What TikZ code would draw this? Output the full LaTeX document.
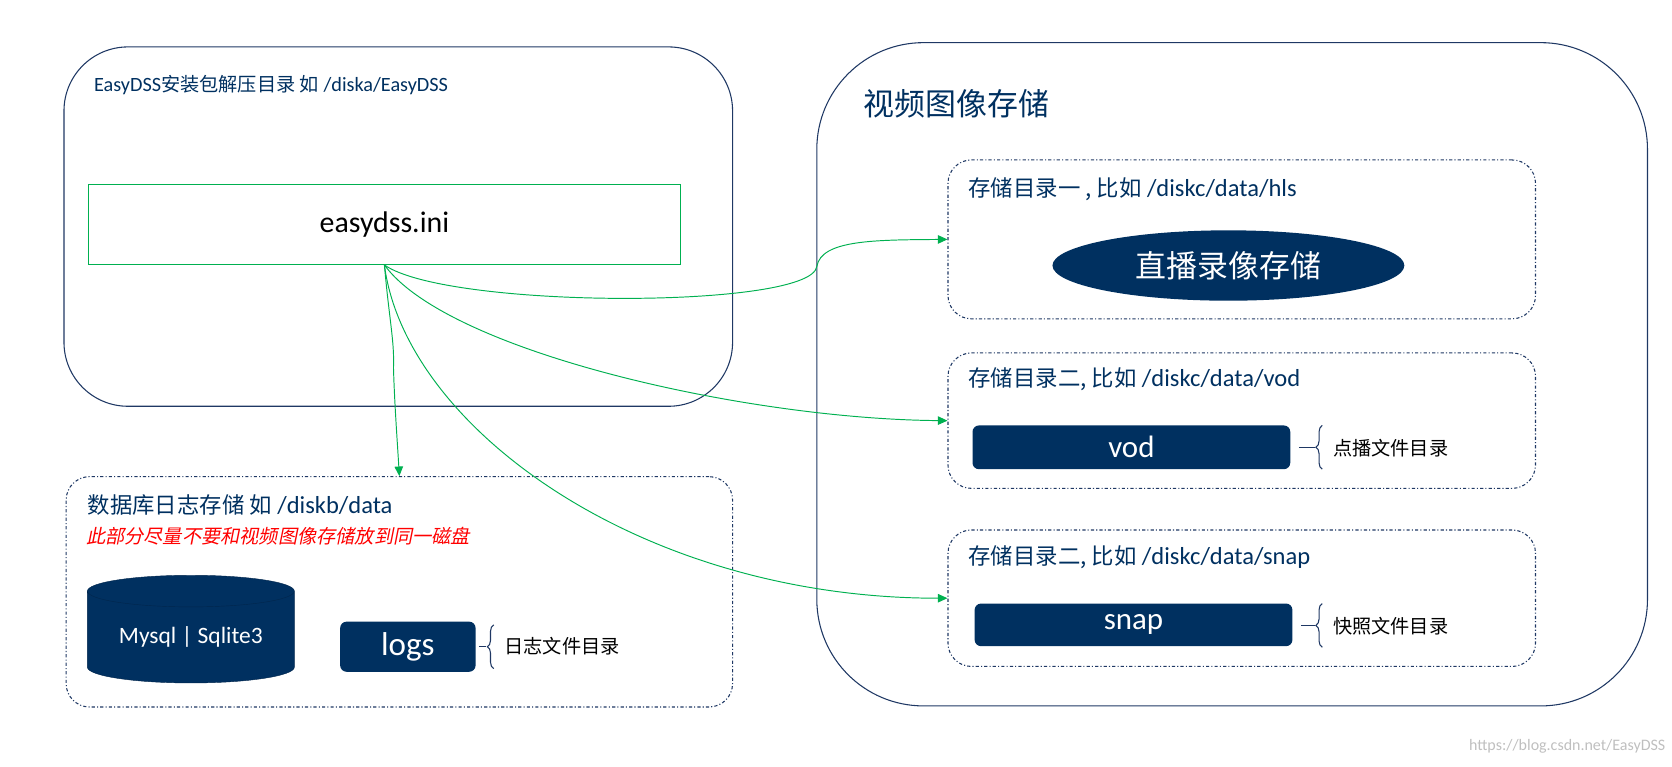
\documentclass[tikz,border=0pt]{standalone}
\usepackage{fontspec}
\setmainfont{Carlito}
\newfontfamily\cjk{Noto Sans CJK SC}
\usetikzlibrary{shapes.geometric,arrows.meta,decorations.pathreplacing}
\definecolor{navy}{RGB}{0,48,96}
\definecolor{boxline}{RGB}{31,56,100}
\definecolor{arrowgreen}{RGB}{0,176,80}
\tikzset{
  outer/.style={draw=boxline, line width=1pt, rounded corners=#1, inner sep=0pt},
  subbox/.style={draw=boxline, line width=1pt, dash dot, rounded corners=22pt, inner sep=0pt},
  label/.style={anchor=west, inner sep=0pt, text=navy},
  item/.style={fill=navy, rounded corners=6pt, text=white, inner sep=0pt},
  note/.style={anchor=west, inner sep=0pt, font=\cjk\fontsize{18}{20}\selectfont},
  link/.style={draw=arrowgreen, line width=0.9pt, -{Triangle[length=9pt,width=8pt]}},
  brace/.style={draw=boxline, line width=1pt, decorate, decoration={brace, amplitude=6pt, mirror}}
}
\begin{document}
\begin{tikzpicture}[x=1pt,y=-1pt]
\useasboundingbox (0,0) rectangle (1568,719);
% containers
\node[outer=60pt, minimum width=627pt, minimum height=337pt] (pkg) at (373.5,212.5) {};
\node[outer=100pt, minimum width=779pt, minimum height=622pt] (store) at (1155.5,351) {};
\node[subbox, minimum width=625pt, minimum height=216pt] (db) at (374.5,555) {};
\node[subbox, minimum width=551pt, minimum height=149pt] (dirA) at (1164.5,224.5) {};
\node[subbox, minimum width=551pt, minimum height=127pt] (dirB) at (1164.5,394.5) {};
\node[subbox, minimum width=551pt, minimum height=128pt] (dirC) at (1164.5,561) {};
% titles
\node[label, font=\fontsize{19}{22}\selectfont] (pkgT) at (88,80) {EasyDSS{\cjk\fontsize{18}{22}\selectfont 安装包解压目录 如} /diska/EasyDSS};
\node[label, font=\cjk\fontsize{29}{32}\selectfont] (storeT) at (810,97) {视频图像存储};
\node[label, font=\fontsize{23}{26}\selectfont] (dirAT) at (908,177) {{\cjk\fontsize{21}{24}\selectfont 存储目录一 , 比如} /diskc/data/hls};
\node[label, font=\fontsize{23}{26}\selectfont] (dirBT) at (908,356) {{\cjk\fontsize{21}{24}\selectfont 存储目录二, 比如} /diskc/data/vod};
\node[label, font=\fontsize{23}{26}\selectfont] (dirCT) at (908,523) {{\cjk\fontsize{21}{24}\selectfont 存储目录二, 比如} /diskc/data/snap};
\node[label, font=\fontsize{23}{26}\selectfont] (dbT) at (82,474) {{\cjk\fontsize{21}{24}\selectfont 数据库日志存储 如} /diskb/data};
\node[label, text=red, font=\cjk\fontsize{18}{20}\selectfont, xslant=0.2] (dbW) at (82,503) {此部分尽量不要和视频图像存储放到同一磁盘};
% items
\node[draw=arrowgreen, line width=1pt, minimum width=555pt, minimum height=75pt, font=\fontsize{28}{30}\selectfont] (ini) at (360.5,210.5) {easydss.ini};
\node[ellipse, fill=navy, text=white, minimum width=330pt, minimum height=66pt, inner sep=0pt, font=\cjk\fontsize{29}{32}\selectfont] (live) at (1152,249) {直播录像存储};
\node[item, minimum width=298pt, minimum height=41pt, font=\fontsize{29}{30}\selectfont] (vod) at (1061,419.5) {vod};
\node[item, minimum width=298pt, minimum height=40pt, font=\fontsize{29}{30}\selectfont] (snap) at (1063,586) {snap};
\node[item, minimum width=127pt, minimum height=47pt, font=\fontsize{31}{32}\selectfont] (logs) at (382.5,606.5) {logs};
\node[cylinder, shape border rotate=90, aspect=0.22, fill=navy, draw=navy!80!black, text=white, minimum width=194pt, minimum height=101pt, inner sep=0pt, font=\fontsize{22}{24}\selectfont] (sql) at (179,597.5) {Mysql | Sqlite3};
% notes
\node[note] (vodN) at (1250,420) {点播文件目录};
\node[note] (snapN) at (1250,587) {快照文件目录};
\node[note] (logsN) at (473,606) {日志文件目录};
\draw[brace] (1240,399) -- (1240,440);
\draw[boxline, line width=1pt] (1218,419.5) -- (1233,419.5);
\draw[brace] (1240,566) -- (1240,607);
\draw[boxline, line width=1pt] (1220,586.5) -- (1233,586.5);
\draw[brace] (463,586) -- (463,627);
\draw[boxline, line width=1pt] (449,606.5) -- (456,606.5);
% links
\draw[link] (ini.south) .. controls (420,290) and (760,290) .. (766,250) .. controls (770,225) and (820,225) .. (dirA.west);
\draw[link] (ini.south) .. controls (420,330) and (700,393) .. (dirB.west);
\draw[link] (ini.south) .. controls (380,400) and (600,561) .. (dirC.west);
\draw[link] (ini.south) .. controls (365,300) and (370,320) .. (369,345) .. controls (370,380) and (373,420) .. (db.north);
% watermark
\node[anchor=east, inner sep=0pt, text=black!25, font=\fontsize{15}{17}\selectfont] (mark) at (1562,700) {https://blog.csdn.net/EasyDSS};
\end{tikzpicture}
\end{document}
